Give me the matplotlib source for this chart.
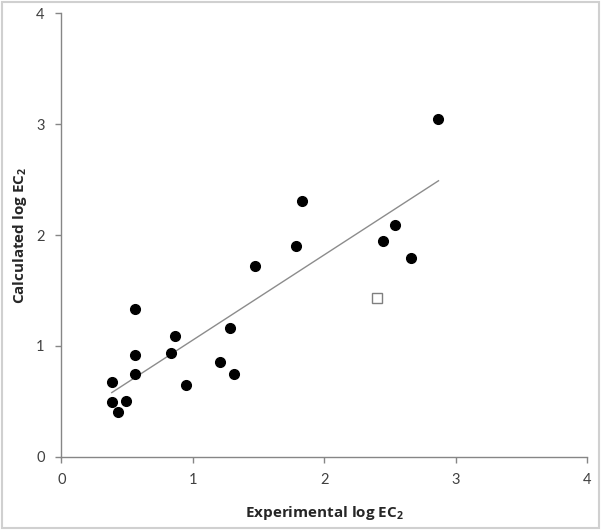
import matplotlib
matplotlib.use("Agg")
import matplotlib.pyplot as plt
from matplotlib.patches import Rectangle
import numpy as np

plt.rcParams['font.family'] = ['Lato', 'DejaVu Sans']
plt.rcParams['mathtext.default'] = 'regular'

exp_x = [0.384, 0.384, 0.431, 0.492, 0.558, 0.558, 0.558, 0.832, 0.863, 0.949,
         1.210, 1.284, 1.314, 1.476, 1.784, 1.834, 2.448, 2.540, 2.661, 2.869]
calc_y = [0.677, 0.491, 0.403, 0.505, 1.330, 0.918, 0.746, 0.933, 1.089, 0.644,
          0.852, 1.159, 0.746, 1.721, 1.902, 2.310, 1.949, 2.088, 1.796, 3.048]
outlier_x = [2.400]
outlier_y = [1.435]
fit_slope = 0.769
fit_intercept = 0.283
ticks = [0, 1, 2, 3, 4]

fig = plt.figure(figsize=(6.01, 5.30), dpi=100)
ax = fig.add_axes([0.102, 0.1383, 0.875, 0.8366])

fig.patches.append(Rectangle((0.004, 0.004), 0.992, 0.992, transform=fig.transFigure,
                             fill=False, edgecolor='#d0d0d0', linewidth=1.5))

lx = np.array([min(exp_x), max(exp_x)])
ax.plot(lx, fit_slope * lx + fit_intercept, color='#8c8c8c', linewidth=1.0, zorder=2)
ax.plot(exp_x, calc_y, 'o', color='black', markersize=7, zorder=3)
ax.plot(outlier_x, outlier_y, 's', markerfacecolor='white', markeredgecolor='#7f7f7f',
        markersize=6.5, markeredgewidth=1.0, zorder=3)

ax.set_xlim(0, 4)
ax.set_ylim(0, 4)
ax.set_xticks(ticks)
ax.set_yticks(ticks)
ax.set_xticklabels([str(t) for t in ticks])
ax.set_yticklabels([str(t) for t in ticks])
for s in ['top', 'right']:
    ax.spines[s].set_visible(False)
for s in ['left', 'bottom']:
    ax.spines[s].set_color('#868686')
    ax.spines[s].set_linewidth(1.0)
ax.tick_params(direction='out', length=4, width=1, color='#868686',
               labelsize=10.5, labelcolor='#404040', pad=8)
lab = dict(fontsize=11, fontweight='bold', color='#262626', family=['Open Sans', 'DejaVu Sans'])
ax.set_xlabel('Experimental log EC$_2$', labelpad=12, **lab)
ax.set_ylabel('Calculated log EC$_2$', labelpad=5, **lab)

fig.savefig('out.png', dpi=100)
